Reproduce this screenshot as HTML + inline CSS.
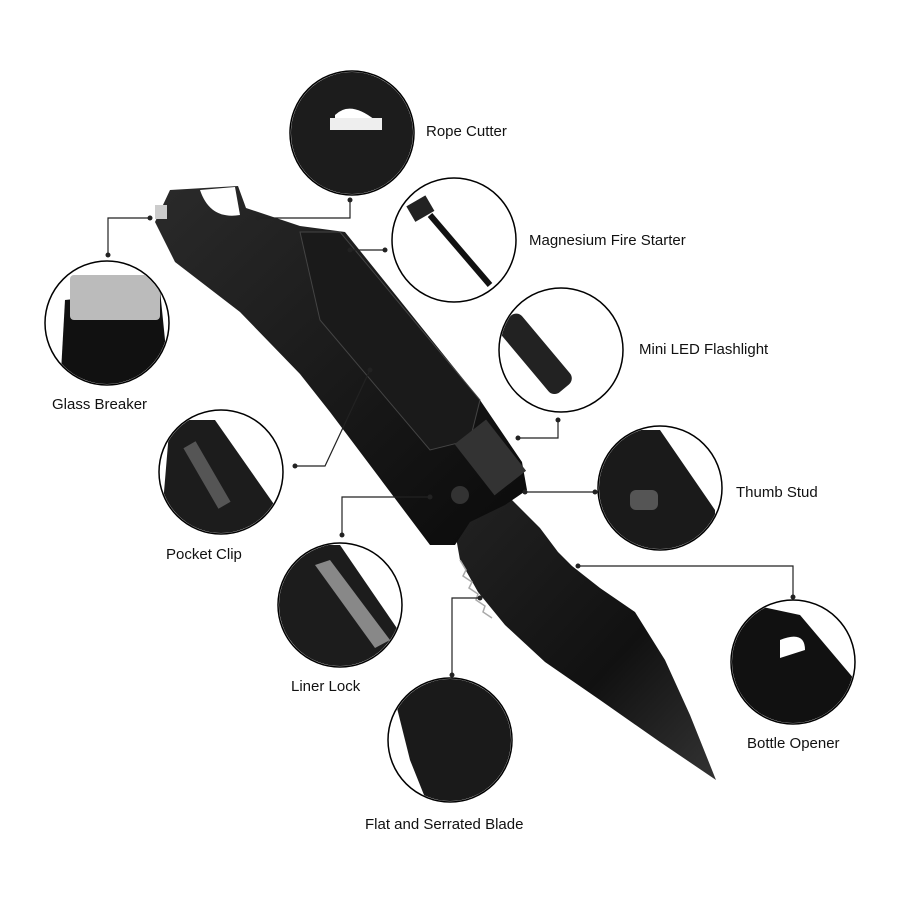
<!DOCTYPE html>
<html><head><meta charset="utf-8"><style>
html,body{margin:0;padding:0;background:#fff}
svg{display:block}
text{font-family:"Liberation Sans",sans-serif;font-size:15px;fill:#111}
</style></head><body>
<svg width="900" height="900" viewBox="0 0 900 900">
<defs>
<linearGradient id="kb" x1="0" y1="0" x2="1" y2="1"><stop offset="0" stop-color="#2a2a2a"/><stop offset="1" stop-color="#0a0a0a"/></linearGradient>
<linearGradient id="bl" x1="0" y1="0" x2="1" y2="1"><stop offset="0" stop-color="#222"/><stop offset="0.6" stop-color="#111"/><stop offset="1" stop-color="#333"/></linearGradient>
<clipPath id="c1"><circle cx="352" cy="133" r="61"/></clipPath>
<clipPath id="c2"><circle cx="454" cy="240" r="61"/></clipPath>
<clipPath id="c3"><circle cx="561" cy="350" r="61"/></clipPath>
<clipPath id="c4"><circle cx="660" cy="488" r="61"/></clipPath>
<clipPath id="c5"><circle cx="793" cy="662" r="61"/></clipPath>
<clipPath id="c6"><circle cx="450" cy="740" r="61"/></clipPath>
<clipPath id="c7"><circle cx="340" cy="605" r="61"/></clipPath>
<clipPath id="c8"><circle cx="221" cy="472" r="61"/></clipPath>
<clipPath id="c9"><circle cx="107" cy="323" r="61"/></clipPath>
</defs>

<!-- blade -->
<polygon points="452,515 508,496 540,528 558,552 572,566 600,588 635,612 665,660 690,715 716,780 660,742 600,700 545,662 505,625 478,592 460,560" fill="url(#bl)"/>
<polyline points="460,560 466,570 463,576 472,582 469,588 478,594 476,600 485,606 483,612 492,618" fill="none" stroke="#aaa" stroke-width="1.5"/>
<!-- handle -->
<polygon points="155,222 170,190 238,186 246,208 300,226 345,232 480,400 522,462 527,490 505,505 470,522 455,545 430,545 330,412 300,374 240,312 175,262" fill="url(#kb)"/>
<polygon points="300,232 340,232 480,400 470,440 430,450 320,320" fill="#1a1a1a" stroke="#444" stroke-width="1"/>
<rect x="470" y="425" width="40" height="65" transform="rotate(-38 490 457)" fill="#333"/>
<circle cx="460" cy="495" r="9" fill="#333"/>
<path d="M200,190 q10,30 40,25 l-5,-28 z" fill="#fff"/>
<rect x="155" y="205" width="12" height="14" fill="#ccc"/>

<!-- circles -->
<g stroke="#000" stroke-width="1.5" fill="#fff">
<circle cx="352" cy="133" r="62"/><circle cx="454" cy="240" r="62"/><circle cx="561" cy="350" r="62"/>
<circle cx="660" cy="488" r="62"/><circle cx="793" cy="662" r="62"/><circle cx="450" cy="740" r="62"/>
<circle cx="340" cy="605" r="62"/><circle cx="221" cy="472" r="62"/><circle cx="107" cy="323" r="62"/>
</g>
<!-- circle contents -->
<g clip-path="url(#c1)"><polygon points="280,70 420,70 420,200 280,200" fill="#1c1c1c"/><path d="M335,115 q15,-15 40,5 l-40,10 z" fill="#fff"/><rect x="330" y="118" width="52" height="12" fill="#eee"/></g>
<g clip-path="url(#c2)"><rect x="410" y="200" width="22" height="18" fill="#222" transform="rotate(-30 420 210)"/><line x1="430" y1="215" x2="490" y2="285" stroke="#111" stroke-width="6"/></g>
<g clip-path="url(#c3)"><rect x="520" y="305" width="28" height="90" rx="8" fill="#222" transform="rotate(-40 540 350)"/></g>
<g clip-path="url(#c4)"><polygon points="598,430 660,430 715,510 715,560 598,560" fill="#1a1a1a"/><rect x="630" y="490" width="28" height="20" rx="6" fill="#555"/></g>
<g clip-path="url(#c5)"><polygon points="730,600 800,615 855,680 855,730 730,730" fill="#111"/><path d="M780,640 q25,-10 25,10 l-25,8 z" fill="#fff"/></g>
<g clip-path="url(#c6)"><polygon points="430,678 515,678 515,810 430,810 410,760 395,700" fill="#1a1a1a"/></g>
<g clip-path="url(#c7)"><polygon points="278,545 340,545 405,640 405,670 278,670" fill="#1c1c1c"/><polygon points="315,565 330,560 390,640 375,648" fill="#888"/></g>
<g clip-path="url(#c8)"><polygon points="170,420 215,420 285,520 285,540 160,540" fill="#1c1c1c"/><rect x="200" y="440" width="14" height="70" fill="#555" transform="rotate(-30 207 475)"/></g>
<g clip-path="url(#c9)"><polygon points="65,300 160,290 170,390 60,390" fill="#111"/><rect x="70" y="275" width="90" height="45" rx="4" fill="#bbb"/></g>

<!-- connectors -->
<g fill="none" stroke="#222" stroke-width="1.2">
<polyline points="258,218 350,218 350,200"/>
<polyline points="150,218 108,218 108,255"/>
<polyline points="350,250 385,250"/>
<polyline points="518,438 558,438 558,420"/>
<polyline points="370,370 325,466 295,466"/>
<polyline points="525,492 595,492"/>
<polyline points="430,497 342,497 342,535"/>
<polyline points="578,566 793,566 793,597"/>
<polyline points="480,598 452,598 452,675"/>
</g>
<g fill="#222">
<circle cx="258" cy="218" r="2.5"/><circle cx="350" cy="200" r="2.5"/>
<circle cx="150" cy="218" r="2.5"/><circle cx="108" cy="255" r="2.5"/>
<circle cx="350" cy="250" r="2.5"/><circle cx="385" cy="250" r="2.5"/>
<circle cx="518" cy="438" r="2.5"/><circle cx="558" cy="420" r="2.5"/>
<circle cx="370" cy="370" r="2.5"/><circle cx="295" cy="466" r="2.5"/>
<circle cx="525" cy="492" r="2.5"/><circle cx="595" cy="492" r="2.5"/>
<circle cx="430" cy="497" r="2.5"/><circle cx="342" cy="535" r="2.5"/>
<circle cx="578" cy="566" r="2.5"/><circle cx="793" cy="597" r="2.5"/>
<circle cx="480" cy="598" r="2.5"/><circle cx="452" cy="675" r="2.5"/>
</g>

<!-- labels -->
<text x="426" y="136">Rope Cutter</text>
<text x="529" y="245">Magnesium Fire Starter</text>
<text x="639" y="354">Mini LED Flashlight</text>
<text x="736" y="497">Thumb Stud</text>
<text x="747" y="748">Bottle Opener</text>
<text x="365" y="829">Flat and Serrated Blade</text>
<text x="291" y="691">Liner Lock</text>
<text x="166" y="559">Pocket Clip</text>
<text x="52" y="409">Glass Breaker</text>
</svg>
</body></html>
